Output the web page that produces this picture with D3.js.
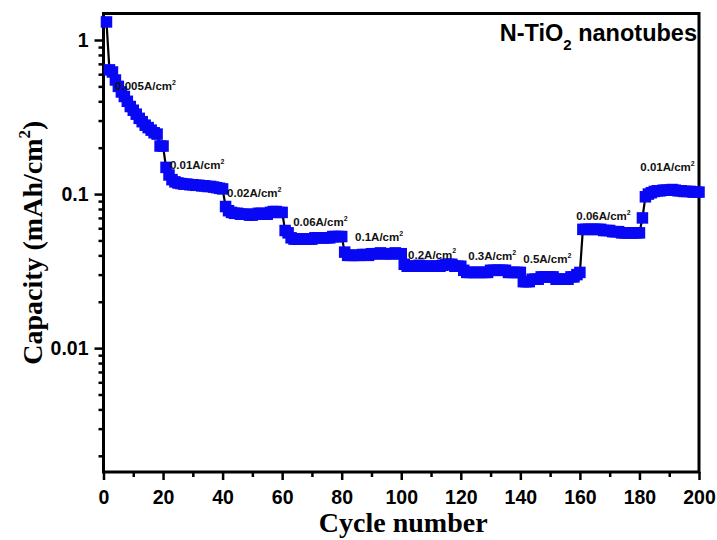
<!DOCTYPE html>
<html>
<head>
<meta charset="utf-8">
<script src="https://cdn.jsdelivr.net/npm/d3@7"></script>
<style>
  html, body { margin: 0; padding: 0; background: #fff; }
  svg { display: block; }
  .sans { font-family: Arial, "Liberation Sans", sans-serif; font-weight: bold; }
  .serif { font-family: "Times New Roman", "Liberation Serif", serif; font-weight: bold; }
</style>
</head>
<body>
<script>
// ---- data ----
const cycles = d3.range(1, 201);
const capacity = [
  // 0.005 A/cm2 (1-20)
  1.31, 0.64, 0.62, 0.55, 0.50, 0.46, 0.43, 0.40, 0.37, 0.35,
  0.33, 0.31, 0.295, 0.28, 0.27, 0.26, 0.25, 0.245, 0.205, 0.205,
  // 0.01 A/cm2 (21-40)
  0.149, 0.133, 0.124, 0.120, 0.118, 0.117, 0.116, 0.116, 0.115, 0.115,
  0.114, 0.114, 0.113, 0.113, 0.112, 0.112, 0.111, 0.110, 0.109, 0.108,
  // 0.02 A/cm2 (41-60)
  0.083, 0.078, 0.076, 0.075, 0.075, 0.074, 0.074, 0.074, 0.073, 0.073,
  0.074, 0.075, 0.075, 0.074, 0.074, 0.076, 0.077, 0.077, 0.076, 0.076,
  // 0.06 A/cm2 (61-80)
  0.058, 0.056, 0.052, 0.051, 0.051, 0.051, 0.051, 0.051, 0.051, 0.051,
  0.052, 0.052, 0.052, 0.052, 0.052, 0.052, 0.053, 0.053, 0.053, 0.053,
  // 0.1 A/cm2 (81-100)
  0.042, 0.040, 0.040, 0.040, 0.040, 0.040, 0.0405, 0.0405, 0.040, 0.041,
  0.041, 0.041, 0.0415, 0.041, 0.041, 0.041, 0.041, 0.0415, 0.041, 0.041,
  // 0.2 A/cm2 (101-120)
  0.035, 0.034, 0.034, 0.034, 0.034, 0.0345, 0.034, 0.034, 0.034, 0.034,
  0.034, 0.034, 0.034, 0.0345, 0.035, 0.035, 0.035, 0.034, 0.034, 0.034,
  // 0.3 A/cm2 (121-140)
  0.032, 0.031, 0.031, 0.031, 0.031, 0.031, 0.031, 0.031, 0.031, 0.032,
  0.032, 0.032, 0.032, 0.032, 0.032, 0.031, 0.031, 0.031, 0.031, 0.031,
  // 0.5 A/cm2 (141-160)
  0.027, 0.027, 0.027, 0.028, 0.028, 0.028, 0.029, 0.029, 0.029, 0.029,
  0.029, 0.028, 0.028, 0.028, 0.028, 0.028, 0.029, 0.029, 0.030, 0.031,
  // 0.06 A/cm2 (161-180)
  0.059, 0.059, 0.059, 0.059, 0.059, 0.059, 0.059, 0.058, 0.058, 0.058,
  0.057, 0.057, 0.057, 0.056, 0.056, 0.056, 0.056, 0.056, 0.056, 0.056,
  // 0.01 A/cm2 (181-200)
  0.070, 0.096, 0.100, 0.102, 0.104, 0.105, 0.105, 0.106, 0.106, 0.106,
  0.107, 0.106, 0.105, 0.105, 0.104, 0.104, 0.104, 0.103, 0.103, 0.103
];

const xTicks = [0, 20, 40, 60, 80, 100, 120, 140, 160, 180, 200];
const xMinorTicks = [10, 30, 50, 70, 90, 110, 130, 150, 170, 190];
const yTicks = [1, 0.1, 0.01];
const yTickLabels = ["1", "0.1", "0.01"];

// current-density annotations (anchor in data units: cycle, capacity)
const annoText = ["0.005A/cm", "0.01A/cm", "0.02A/cm", "0.06A/cm", "0.1A/cm",
                  "0.2A/cm", "0.3A/cm", "0.5A/cm", "0.06A/cm", "0.01A/cm"];
const annoCycle = [3.9, 22.3, 41.5, 63.7, 84.5, 102.3, 122.5, 141, 158.8, 180.3];
const annoCap = [0.473, 0.145, 0.0957, 0.062, 0.0495, 0.0379, 0.0373, 0.0356, 0.0678, 0.141];

const xTitle = "Cycle number";
const yTitle = "Capacity (mAh/cm";
const chartTitle = ["N-TiO", "2", " nanotubes"];

// ---- layout ----
const W = 717, H = 540;
const L = 103.5, R = 699, T = 13.5, B = 472;

const svg = d3.select("body").append("svg").attr("width", W).attr("height", H);

const x = d3.scaleLinear().domain([0, 200]).range([L, R]);
const y = d3.scaleLog().domain([0.00157, 1.486]).range([B, T]);

// minor y ticks
const yMinor = [];
[0.001, 0.01, 0.1].forEach(dec => {
  for (let k = 2; k <= 9; k++) {
    const v = +(dec * k).toPrecision(3);
    if (v >= y.domain()[0] && v <= y.domain()[1]) yMinor.push(v);
  }
});

// axes
const gx = svg.append("g").attr("transform", `translate(0,${B})`)
  .call(d3.axisBottom(x).tickValues(xTicks).tickFormat(d3.format("d")).tickSize(8).tickPadding(10));
const gxm = svg.append("g").attr("transform", `translate(0,${B})`)
  .call(d3.axisBottom(x).tickValues(xMinorTicks).tickFormat("").tickSize(5));
const gy = svg.append("g").attr("transform", `translate(${L},0)`)
  .call(d3.axisLeft(y).tickValues(yTicks).tickFormat((d, i) => yTickLabels[i]).tickSize(9).tickPadding(6));
const gym = svg.append("g").attr("transform", `translate(${L},0)`)
  .call(d3.axisLeft(y).tickValues(yMinor).tickFormat("").tickSize(5));

[gx, gxm, gy, gym].forEach(g => {
  g.select(".domain").remove();
  g.selectAll(".tick line").attr("stroke", "#000").attr("stroke-width", 2.5);
  g.selectAll(".tick text").attr("class", "sans").attr("font-size", 19.5).attr("fill", "#000");
});

// frame
svg.append("rect").attr("x", L).attr("y", T).attr("width", R - L).attr("height", B - T)
  .attr("fill", "none").attr("stroke", "#000").attr("stroke-width", 3);

// data line + squares
const pts = cycles.map((c, i) => [c, capacity[i]]);
svg.append("path").datum(pts)
  .attr("fill", "none").attr("stroke", "#000").attr("stroke-width", 2.2)
  .attr("d", d3.line().x(d => x(d[0])).y(d => y(d[1])));

const sq = 11.5;
svg.append("g").selectAll("rect").data(pts).join("rect")
  .attr("x", d => x(d[0]) - sq / 2)
  .attr("y", d => y(d[1]) - sq / 2)
  .attr("width", sq).attr("height", sq)
  .attr("fill", "#0808f5");

// annotations
const ag = svg.append("g");
annoText.forEach((t, i) => {
  const tx = ag.append("text").attr("class", "sans").attr("font-size", 11.5).attr("fill", "#111")
    .attr("x", x(annoCycle[i])).attr("y", y(annoCap[i]));
  tx.append("tspan").text(t);
  tx.append("tspan").attr("font-size", 7).attr("dy", -5.5).text("2");
});

// chart title
const tt = svg.append("text").attr("class", "sans").attr("font-size", 23.5).attr("fill", "#000")
  .attr("text-anchor", "end").attr("x", 697).attr("y", 41);
tt.append("tspan").text(chartTitle[0]);
tt.append("tspan").attr("font-size", 15).attr("dy", 9).text(chartTitle[1]);
tt.append("tspan").attr("dy", -9).text(chartTitle[2]);

// axis titles
svg.append("text").attr("class", "serif").attr("font-size", 28).attr("fill", "#000")
  .attr("text-anchor", "middle").attr("x", (L + R) / 2 + 2).attr("y", 532).text(xTitle);

const yt = svg.append("text").attr("class", "serif").attr("font-size", 28).attr("fill", "#000")
  .attr("text-anchor", "middle")
  .attr("transform", `translate(42,${(T + B) / 2}) rotate(-90)`);
yt.append("tspan").text(yTitle);
yt.append("tspan").attr("font-size", 17).attr("dy", -12).text("2");
yt.append("tspan").attr("dy", 12).text(")");
</script>
</body>
</html>
